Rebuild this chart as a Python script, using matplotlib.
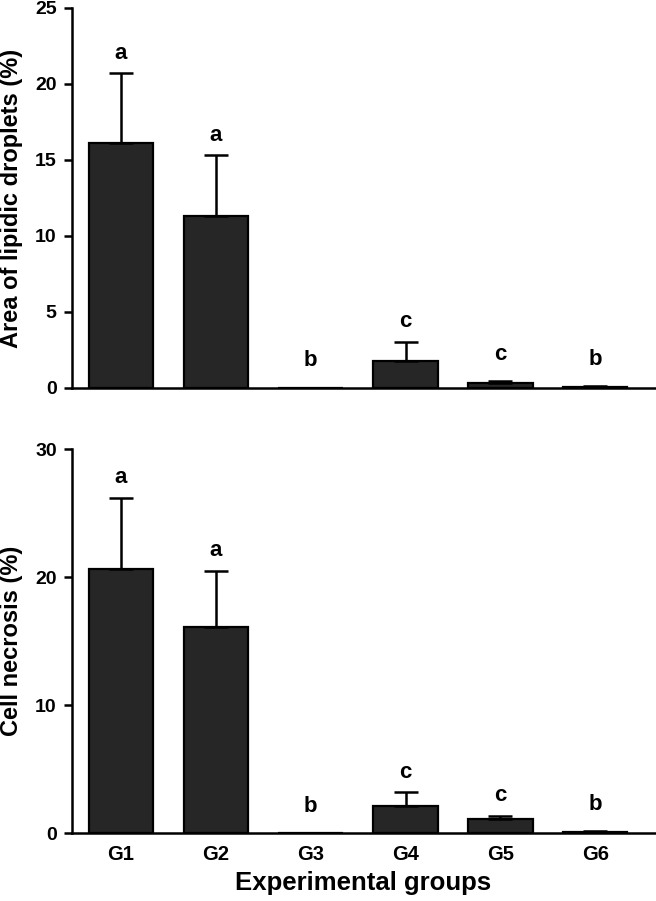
import matplotlib
matplotlib.use("Agg")
import matplotlib.pyplot as plt
import numpy as np

plt.rcParams['font.family'] = ['Liberation Sans', 'DejaVu Sans']
plt.rcParams['font.weight'] = 'bold'

groups = ["G1", "G2", "G3", "G4", "G5", "G6"]
lipid_mean = [16.1, 11.3, 0.0, 1.8, 0.35, 0.05]
lipid_err = [4.6, 4.0, 0.0, 1.25, 0.1, 0.05]
lipid_letters = ["a", "a", "b", "c", "c", "b"]
necro_mean = [20.6, 16.1, 0.0, 2.1, 1.1, 0.1]
necro_err = [5.6, 4.4, 0.0, 1.1, 0.25, 0.05]
necro_letters = ["a", "a", "b", "c", "c", "b"]

W, H = 656, 901
fig = plt.figure(figsize=(W / 100, H / 100), dpi=100)

def px_axes(left, top, right, bottom):
    return fig.add_axes([left / W, 1 - bottom / H, (right - left) / W, (bottom - top) / H])

ax1 = px_axes(72, 8, 655, 388)
ax2 = px_axes(72, 449, 655, 833)

bar_color = "#262626"
x = np.arange(len(groups))

def draw(ax, means, errs, letters, ymax, yticks, ylabel, show_x):
    ax.bar(x, means, width=0.68, color=bar_color, edgecolor="black", linewidth=1.6, zorder=2)
    ax.errorbar(x, means, yerr=[np.zeros(len(errs)), errs], fmt="none", ecolor="black",
                elinewidth=1.8, capsize=8.5, capthick=1.8, zorder=3)
    for xi, m, e, lab in zip(x, means, errs, letters):
        top = m + e
        off = 20 if top > 0.6 else 27
        ax.annotate(lab, (xi, top), xytext=(0, off), textcoords="offset pixels",
                    ha="center", va="center", fontsize=16, fontweight="bold")
    ax.set_xlim(-0.517, 5.63)
    ax.set_ylim(0, ymax)
    ax.set_yticks(yticks)
    ax.set_yticklabels([str(t) for t in yticks], fontsize=14, fontweight="bold")
    ax.spines["top"].set_visible(False)
    ax.spines["right"].set_visible(False)
    ax.spines["left"].set_linewidth(1.8)
    ax.spines["bottom"].set_linewidth(1.8)
    ax.tick_params(axis="y", direction="out", length=6, width=1.8, pad=5)
    ax.tick_params(axis="x", length=0, pad=9)
    ax.set_ylabel(ylabel, fontsize=17, fontweight="bold")
    ax.yaxis.set_label_coords(-0.0845, 0.5)
    ax.set_xticks(x)
    if show_x:
        ax.set_xticklabels(groups, fontsize=14.5, fontweight="bold")
    else:
        ax.set_xticklabels([])

draw(ax1, lipid_mean, lipid_err, lipid_letters, 25, [0, 5, 10, 15, 20, 25],
     "Area of lipidic droplets (%)", False)
draw(ax2, necro_mean, necro_err, necro_letters, 30, [0, 10, 20, 30],
     "Cell necrosis (%)", True)
ax2.set_xlabel("Experimental groups", fontsize=18.5, fontweight="bold", labelpad=5)

fig.savefig("out.png", dpi=100)
